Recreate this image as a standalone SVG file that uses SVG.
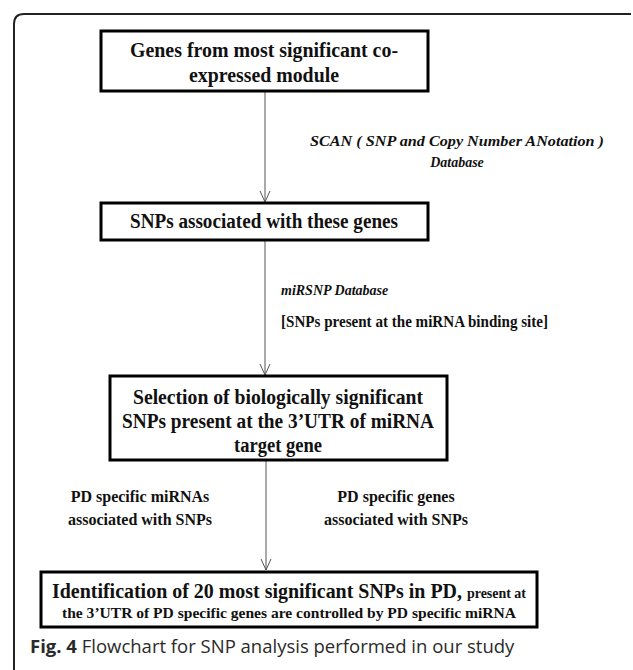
<svg xmlns="http://www.w3.org/2000/svg" width="633" height="670" viewBox="0 0 633 670">
<style>
.box{fill:#fff;stroke:#000;stroke-width:3}
.t{font-family:"Liberation Serif",serif;font-weight:bold;fill:#111;text-anchor:middle}
.ti{font-family:"Liberation Serif",serif;font-weight:bold;font-style:italic;fill:#111}
.lbl{font-family:"Liberation Serif",serif;font-weight:bold;fill:#111}
.c{stroke:#555;stroke-width:1;fill:none}
.cap{font-family:"Open Sans","Noto Sans",sans-serif;font-size:18.5px;fill:#2a2a2a}
</style>
<defs>
<marker id="ah" markerWidth="14" markerHeight="12" refX="12" refY="6" orient="auto" markerUnits="userSpaceOnUse">
<path d="M1,1 L12,6 L1,11" fill="none" stroke="#555" stroke-width="1"/>
</marker>
</defs>
<rect width="633" height="670" fill="#fff"/>
<path d="M14,672 L14,24 Q14,14 24,14 L631,14" fill="none" stroke="#222" stroke-width="2"/>
<g id="connectors">
<line class="c" x1="265" y1="92" x2="265" y2="202" marker-end="url(#ah)"/>
<line class="c" x1="265" y1="241" x2="265" y2="375" marker-end="url(#ah)"/>
<line class="c" x1="266" y1="461" x2="266" y2="570" marker-end="url(#ah)"/>
<text class="ti" x="457" y="146" font-size="14" text-anchor="middle" textLength="294" lengthAdjust="spacingAndGlyphs">SCAN ( SNP and Copy Number ANotation )</text>
<text class="ti" x="457" y="167" font-size="14" text-anchor="middle">Database</text>
<text class="ti" x="281" y="295" font-size="14">miRSNP Database</text>
<text class="lbl" x="281" y="327" font-size="16" textLength="267" lengthAdjust="spacingAndGlyphs">[SNPs present at the miRNA binding site]</text>
<text class="t" x="140" y="502" font-size="16">PD specific miRNAs</text>
<text class="t" x="140" y="525" font-size="16">associated with SNPs</text>
<text class="t" x="396" y="502" font-size="16">PD specific genes</text>
<text class="t" x="396" y="525" font-size="16">associated with SNPs</text>
</g>
<g id="n1">
<rect class="box" x="101" y="31" width="327" height="60"/>
<text class="t" x="264" y="57" font-size="20" textLength="268" lengthAdjust="spacingAndGlyphs">Genes from most significant co-</text>
<text class="t" x="264" y="82" font-size="20" textLength="150" lengthAdjust="spacingAndGlyphs">expressed module</text>
</g>
<g id="n2">
<rect class="box" x="101" y="203" width="327" height="37"/>
<text class="t" x="264" y="228" font-size="20" textLength="268" lengthAdjust="spacingAndGlyphs">SNPs associated with these genes</text>
</g>
<g id="n3">
<rect class="box" x="110" y="376" width="337" height="84"/>
<text class="t" x="278" y="404" font-size="20" textLength="290" lengthAdjust="spacingAndGlyphs">Selection of biologically significant</text>
<text class="t" x="278" y="428" font-size="20" textLength="312" lengthAdjust="spacingAndGlyphs">SNPs present at the 3’UTR of miRNA</text>
<text class="t" x="278" y="452" font-size="20" textLength="88" lengthAdjust="spacingAndGlyphs">target gene</text>
</g>
<g id="n4">
<rect class="box" x="41" y="572" width="496" height="55"/>
<text class="lbl" x="52" y="598" font-size="20" textLength="474" lengthAdjust="spacingAndGlyphs">Identification of 20 most significant  SNPs in PD, <tspan font-size="14">present at</tspan></text>
<text class="t" x="289" y="618" font-size="15" textLength="454" lengthAdjust="spacingAndGlyphs">the 3’UTR of PD specific genes are controlled by PD specific miRNA</text>
</g>
<text class="cap" x="30" y="653"><tspan font-weight="bold">Fig. 4</tspan> Flowchart for SNP analysis performed in our study</text>
</svg>
